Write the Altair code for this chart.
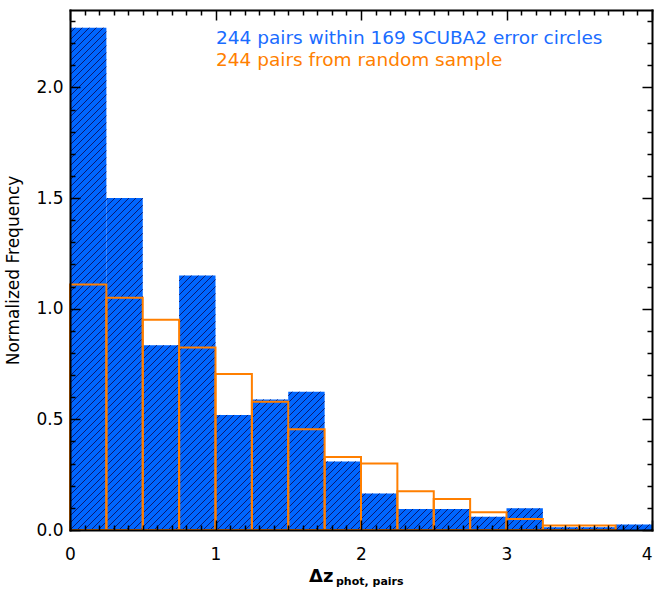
import math
import altair as alt
import pandas as pd

# ---------------- data ----------------
bin_edges = [0.0, 0.25, 0.5, 0.75, 1.0, 1.25, 1.5, 1.75, 2.0,
             2.25, 2.5, 2.75, 3.0, 3.25, 3.5, 3.75, 4.0]
scuba_freq = [2.27, 1.50, 0.835, 1.15, 0.52, 0.59, 0.625, 0.31,
              0.165, 0.095, 0.095, 0.06, 0.098, 0.012, 0.012, 0.025]
random_freq = [1.11, 1.05, 0.95, 0.825, 0.705, 0.58, 0.455, 0.33,
               0.30, 0.175, 0.14, 0.08, 0.05, 0.02, 0.02, 0.0]
legend_lines = ["244 pairs within 169 SCUBA2 error circles",
                "244 pairs from random sample"]
y_title = "Normalized Frequency"
x_title_main = "\u0394z"
x_title_sub = "phot, pairs"
x_major = [0, 1, 2, 3, 4]
y_major = [0.0, 0.5, 1.0, 1.5, 2.0]
x_minor = [round(0.1 * i, 1) for i in range(41) if i % 10 != 0]
y_minor = [round(0.1 * i, 1) for i in range(24) if i % 5 != 0]

# ---------------- styling ----------------
BLUE = "#0066FF"
HATCH = "#0b1a70"
ORANGE = "#FF7F00"
FONT = "DejaVu Sans"
W, H = 582, 520
XMAX, YMAX = 4.0, 2.35

bars = pd.DataFrame({
    "x0": bin_edges[:-1],
    "x1": bin_edges[1:],
    "blue": scuba_freq,
    "orange": random_freq,
    "zero": [0.0] * len(scuba_freq),
})
orange_bars = bars[bars["orange"] > 0]

# hatch segments ("/" at 45 deg in pixel space) derived from the blue bars
sx, sy = W / XMAX, H / YMAX
spacing = 7.0
segs = []
for x0, x1, h in zip(bars["x0"], bars["x1"], bars["blue"]):
    u0, u1, v1 = x0 * sx, x1 * sx, h * sy
    kmin = math.floor((u0 - v1) / spacing)
    kmax = math.ceil(u1 / spacing)
    for k in range(kmin, kmax + 1):
        c = k * spacing
        ua, ub = max(u0, c), min(u1, c + v1)
        if ub - ua > 0.3:
            segs.append({"hx": ua / sx, "hy": (ua - c) / sy,
                         "hx2": ub / sx, "hy2": (ub - c) / sy})
hatch = pd.DataFrame(segs)

xs = alt.Scale(domain=[0, XMAX], nice=False, zero=False)
ys = alt.Scale(domain=[0, YMAX], nice=False, zero=False)


def ax(orient, values=None, size=0, labels=False, domain=False, **kw):
    opts = dict(orient=orient, grid=False, domain=domain, labels=labels,
                zindex=2, tickColor="black", tickWidth=1.5,
                domainColor="black", domainWidth=2, domainCap="square")
    if values is not None:
        opts.update(values=values, ticks=True, tickSize=size, offset=-size)
    else:
        opts.update(ticks=False)
    if "title" not in kw:
        opts["title"] = None
    opts.update(kw)
    return alt.Axis(**opts)


blue_layer = alt.Chart(bars).mark_rect(color=BLUE).encode(
    x=alt.X("x0:Q", scale=xs,
            axis=ax("bottom", x_major, 10, labels=True, format="d",
                    labelPadding=16, labelFlush=False, labelOverlap=False,
                    labelAlign=alt.expr("datum.value == 4 ? 'right' : 'center'"),
                    labelFont=FONT, labelFontSize=17, labelColor="black")),
    x2="x1:Q",
    y=alt.Y("zero:Q", scale=ys,
            axis=ax("left", y_major, 10, labels=True, format=".1f",
                    labelPadding=7, labelFont=FONT, labelFontSize=17,
                    labelColor="black", title=y_title, titleFont=FONT,
                    titleFontSize=17, titleFontWeight="normal",
                    titleColor="black", titlePadding=13)),
    y2="blue:Q",
)

hatch_layer = alt.Chart(hatch).mark_rule(color=HATCH, strokeWidth=1).encode(
    x=alt.X("hx:Q", scale=xs, axis=None),
    x2="hx2:Q",
    y=alt.Y("hy:Q", scale=ys, axis=None),
    y2="hy2:Q",
)

orange_layer = alt.Chart(orange_bars).mark_rect(
    filled=False, stroke=ORANGE, strokeWidth=2, fillOpacity=0
).encode(
    x=alt.X("x0:Q", scale=xs, axis=ax("top", x_major, 10)),
    x2="x1:Q",
    y=alt.Y("zero:Q", scale=ys, axis=ax("right", y_major, 10)),
    y2="orange:Q",
)


def ghost(xaxis, yaxis):
    return alt.Chart(bars).mark_point(opacity=0).encode(
        x=alt.X("x0:Q", scale=xs, axis=xaxis),
        y=alt.Y("blue:Q", scale=ys, axis=yaxis),
    )


minor1 = ghost(ax("bottom", x_minor, 5), ax("left", y_minor, 5))
minor2 = ghost(ax("top", x_minor, 5), ax("right", y_minor, 5))
frame1 = ghost(ax("bottom", domain=True), ax("left", domain=True))
frame2 = ghost(ax("top", domain=True), ax("right", domain=True))


def label(txt, color, x, y, size, weight="normal"):
    return alt.Chart(pd.DataFrame({"t": [txt]})).mark_text(
        align="left", baseline="alphabetic", font=FONT, fontSize=size,
        fontWeight=weight, color=color
    ).encode(x=alt.value(x), y=alt.value(y), text="t:N")


leg1 = label(legend_lines[0], "#1a6cff", 146, 34, 18.5)
leg2 = label(legend_lines[1], ORANGE, 146, 56, 18.5)
xt1 = label(x_title_main, "black", 239, 572, 18, "bold")
xt2 = label(x_title_sub, "black", 266, 575, 11, "bold")

chart = alt.layer(
    blue_layer, hatch_layer, orange_layer, minor1, minor2, frame1, frame2,
    leg1, leg2, xt1, xt2
).resolve_axis(x="independent", y="independent").properties(
    width=W, height=H,
    autosize=alt.AutoSizeParams(type="none"),
    padding={"left": 70, "top": 10, "right": 3, "bottom": 60},
).configure_view(stroke=None).configure(background="white")

chart.save("out.html", embed_options={"renderer": "svg", "actions": False})
